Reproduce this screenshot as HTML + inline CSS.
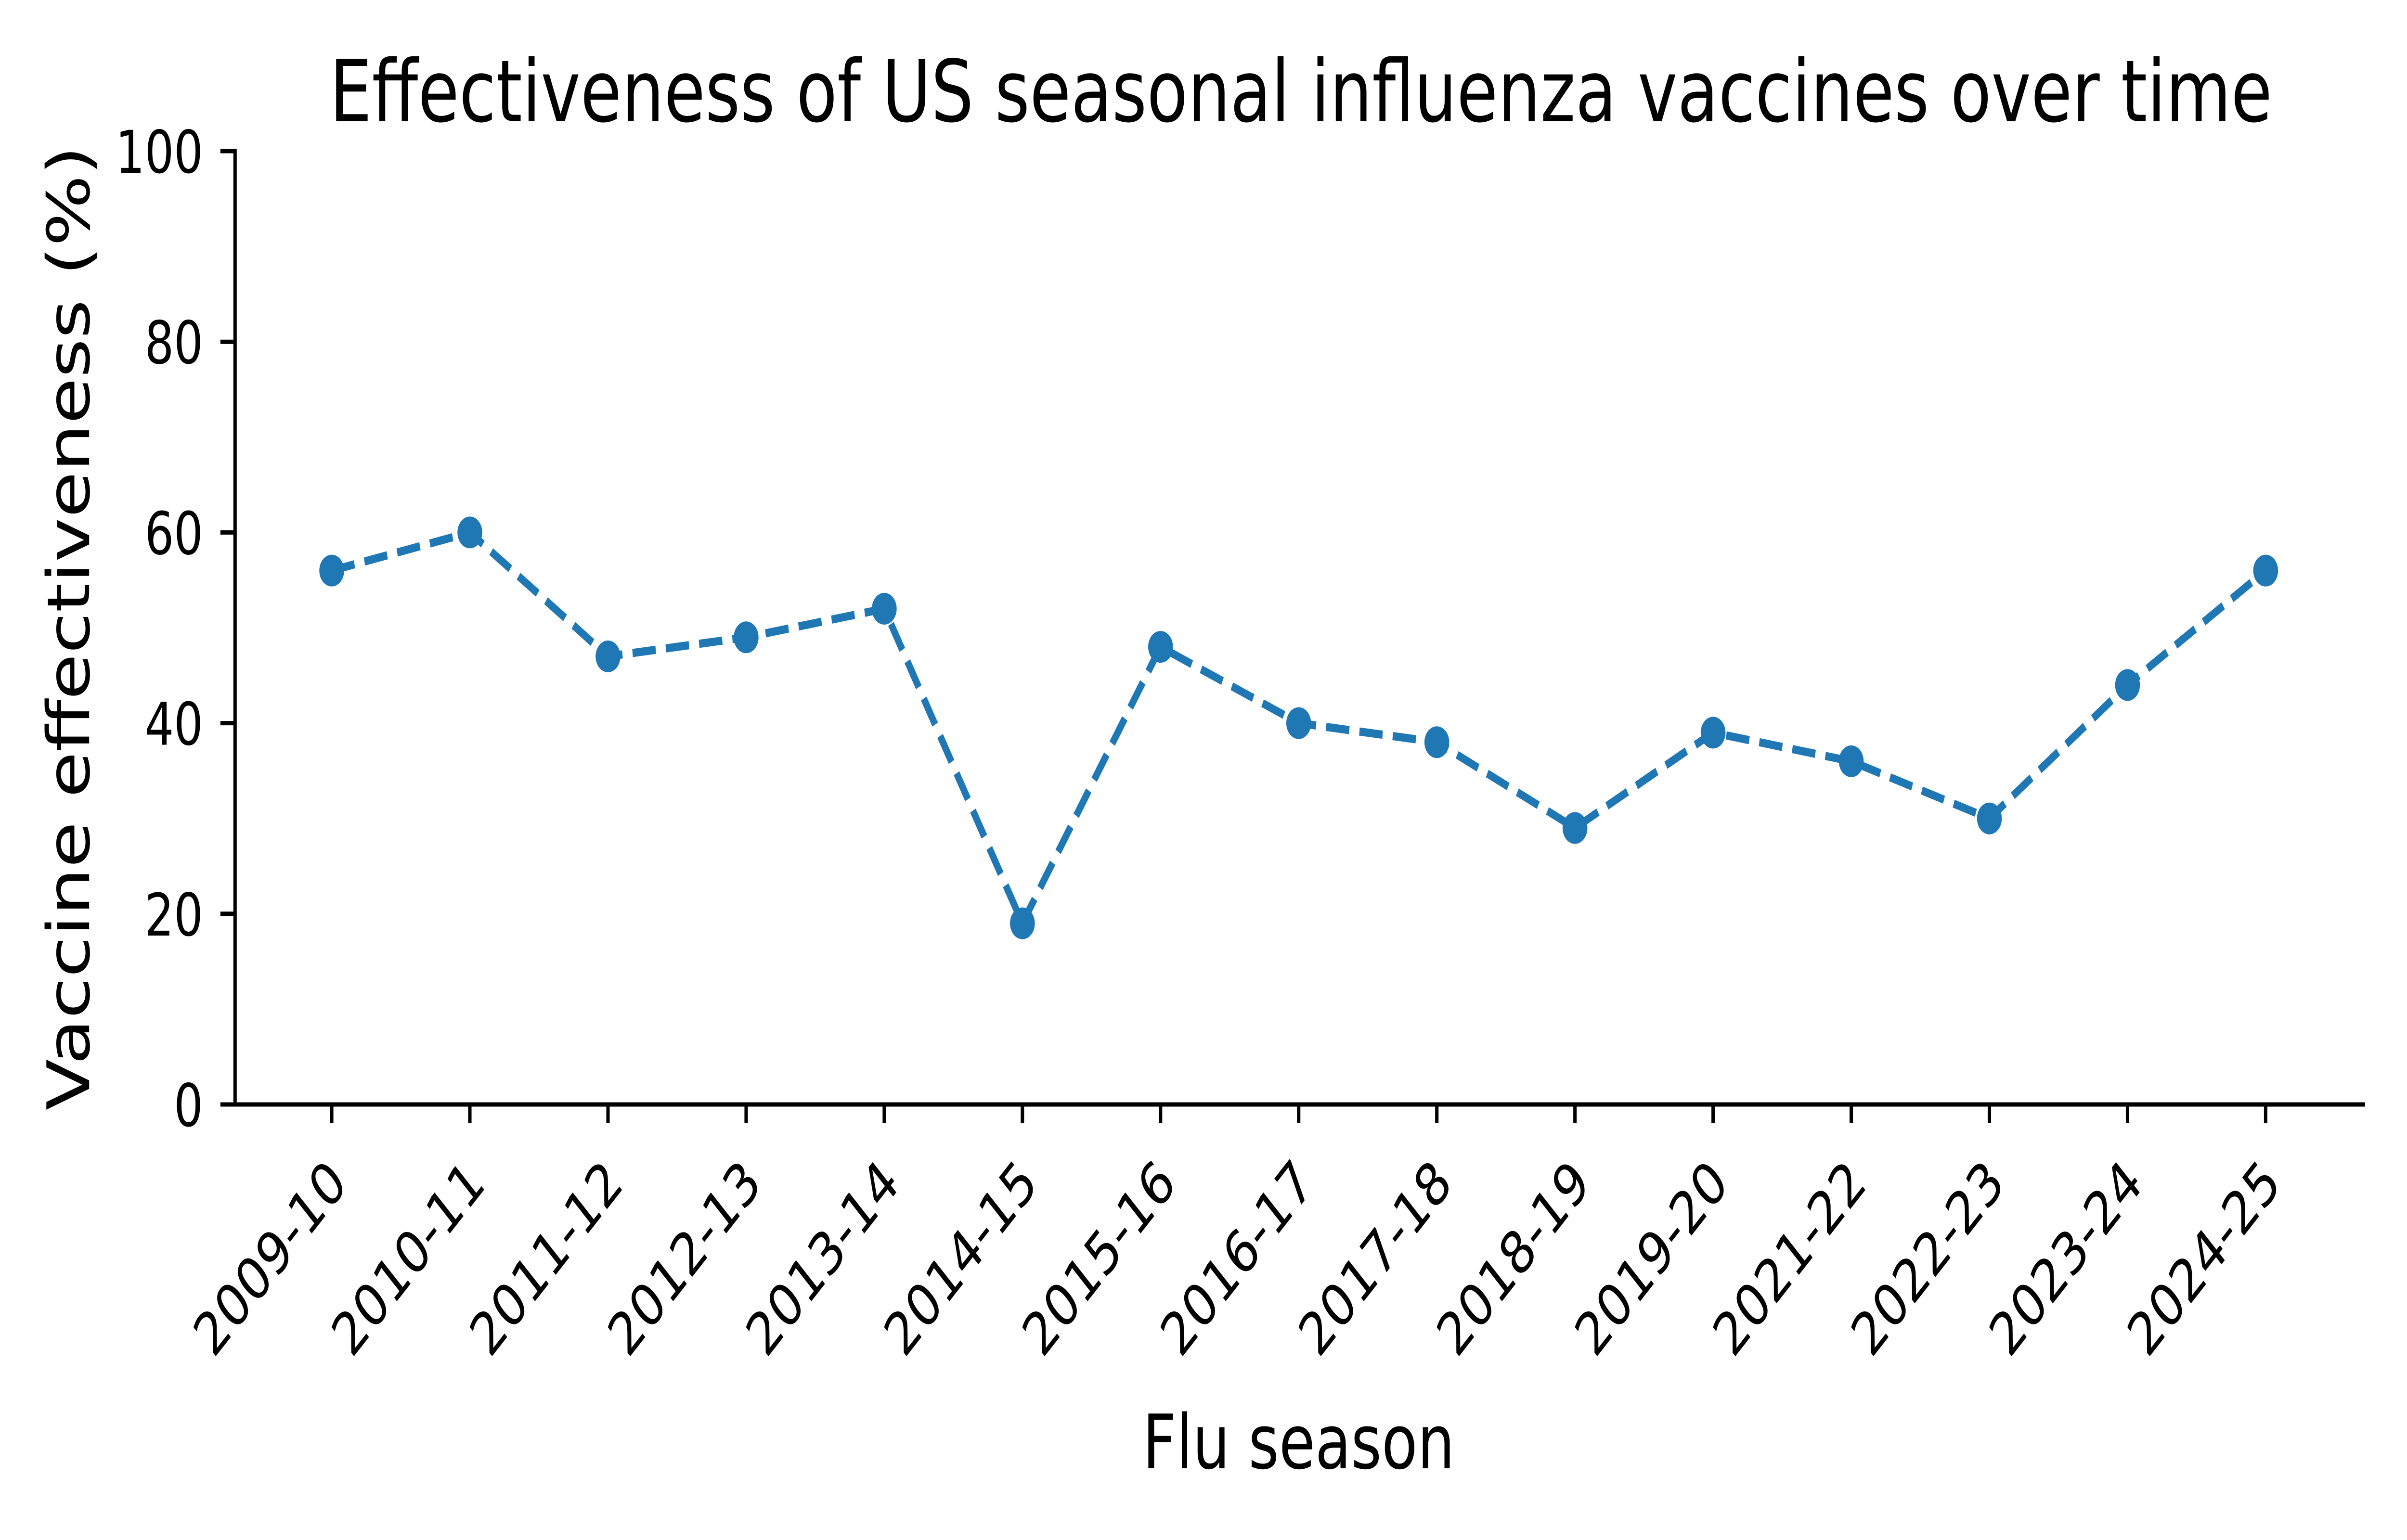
<!DOCTYPE html>
<html><head><meta charset="utf-8"><style>
html,body{margin:0;padding:0;background:#fff;width:100%;height:100%;overflow:hidden}
svg{display:block;width:100vw;height:100vh}
text{font-family:"DejaVu Sans","Liberation Sans",sans-serif;fill:#000}
</style></head><body>
<svg id="chart" viewBox="0 0 6400 3200" preserveAspectRatio="none" xmlns="http://www.w3.org/2000/svg">
<rect width="6400" height="3200" fill="#fff"/>
<text x="3459" y="252" font-size="178" text-anchor="middle">Effectiveness of US seasonal influenza vaccines over time</text>
<text x="3453" y="3051" font-size="156" text-anchor="middle">Flu season</text>
<text transform="translate(237,1305) rotate(-90)" x="0" y="0" font-size="156" text-anchor="middle">Vaccine effectiveness (%)</text>
<g id="yticks"></g>
<g id="xticks"></g>
<g id="series"></g>
<line x1="625" y1="314" x2="625" y2="2295" stroke="#000" stroke-width="9" stroke-linecap="square"/>
<line x1="625" y1="2295" x2="6284" y2="2295" stroke="#000" stroke-width="9" stroke-linecap="square"/>
</svg>
<script>
const seasons = ["2009-10","2010-11","2011-12","2012-13","2013-14","2014-15","2015-16","2016-17","2017-18","2018-19","2019-20","2021-22","2022-23","2023-24","2024-25"];
const effectiveness = [56,60,47,49,52,19,48,40,38,29,39,36,30,44,56];
const yTicks = [0,20,40,60,80,100];

const NS = "http://www.w3.org/2000/svg";
const X0 = 882, DX = 367.3;
const Y0 = 2295, Y100 = 314;
function xScale(i){ return X0 + i*DX; }
function yScale(v){ return Y0 - (v/100)*(Y0-Y100); }
function mk(tag, attrs, parent){
  const e = document.createElementNS(NS, tag);
  for (const k in attrs) e.setAttribute(k, attrs[k]);
  parent.appendChild(e);
  return e;
}
const yg = document.getElementById('yticks');
yTicks.forEach(v => {
  const y = yScale(v);
  const l = mk('line', {x1:586, x2:625, y1:y, y2:y, stroke:'#000', 'stroke-width':9}, yg);
  
  
  const t = mk('text', {x:540, y:y+45, 'font-size':122, 'text-anchor':'end'}, yg);
  t.textContent = String(v);
  
  
});
const xg = document.getElementById('xticks');
seasons.forEach((s, i) => {
  const x = xScale(i);
  const l = mk('line', {x1:x, x2:x, y1:2295, y2:2334, stroke:'#000', 'stroke-width':9}, xg);
  
  
  const px = x + 46, py = 2464;
  const t = mk('text', {x:px, y:py, 'font-size':122, 'text-anchor':'end', transform:'rotate(-45 ' + px + ' ' + py + ')'}, xg);
  t.textContent = s;
  
  
});
const sg = document.getElementById('series');
const pts = effectiveness.map((v, i) => xScale(i) + ',' + yScale(v)).join(' ');
const line = mk('polyline', {points:pts, fill:'none', stroke:'#1f77b4', 'stroke-width':17, 'stroke-dasharray':'62 27', 'stroke-linejoin':'round'}, sg);


effectiveness.forEach((v, i) => {
  const c = mk('circle', {cx:xScale(i), cy:yScale(v), r:33, fill:'#1f77b4'}, sg);
  
  
});
</script>
</body></html>
